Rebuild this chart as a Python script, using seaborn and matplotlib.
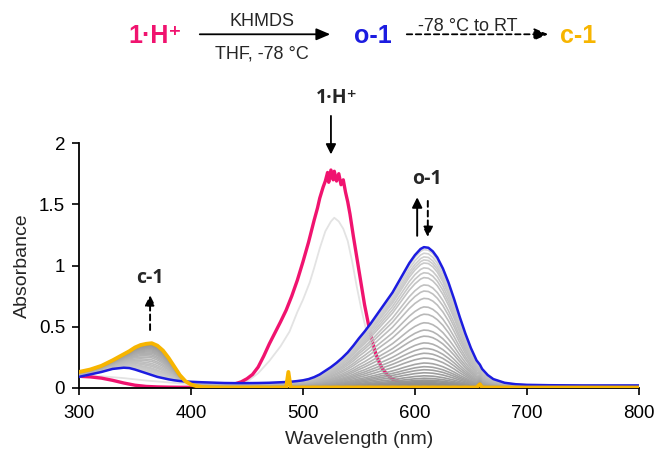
import numpy as np
import pandas as pd
import matplotlib
matplotlib.use("Agg")
import matplotlib.pyplot as plt
from matplotlib.patches import FancyArrowPatch
import seaborn as sns

# ---------------- data ----------------
# common wavelength grid for o-1, c-1 and the conversion series
wl = [300, 310, 320, 330, 340, 345, 350, 355, 360, 365, 370, 375, 380, 385, 390, 395,
      400, 405, 410, 420, 430, 440, 450, 460, 470, 480, 485, 487, 489, 495, 500, 505,
      510, 515, 520, 525, 530, 535, 540, 545, 550, 555, 560, 565, 570, 575, 580, 585,
      590, 595, 600, 605, 608, 612, 616, 620, 625, 630, 635, 640, 645, 650, 655, 658,
      660, 665, 670, 680, 690, 700, 720, 750, 800]

o1_abs = [0.09, 0.11, 0.13, 0.155, 0.165, 0.162, 0.15, 0.135, 0.12, 0.105, 0.09, 0.08,
          0.07, 0.062, 0.056, 0.052, 0.05, 0.048, 0.046, 0.043, 0.04, 0.039, 0.039, 0.04,
          0.042, 0.046, 0.048, 0.07, 0.05, 0.056, 0.062, 0.072, 0.088, 0.11, 0.14, 0.17,
          0.205, 0.245, 0.29, 0.345, 0.405, 0.46, 0.52, 0.585, 0.65, 0.715, 0.78, 0.86,
          0.94, 1.02, 1.085, 1.135, 1.15, 1.145, 1.115, 1.065, 0.975, 0.86, 0.725, 0.58,
          0.445, 0.325, 0.225, 0.19, 0.155, 0.105, 0.072, 0.042, 0.03, 0.025, 0.022, 0.02,
          0.02]

c1_abs = [0.13, 0.15, 0.18, 0.225, 0.275, 0.30, 0.33, 0.35, 0.36, 0.365, 0.345, 0.305,
          0.245, 0.175, 0.105, 0.055, 0.028, 0.014, 0.007, 0.004, 0.003, 0.003, 0.003,
          0.004, 0.003, 0.004, 0.003, 0.13, 0.004, 0.003, 0.004, 0.003, 0.004, 0.003,
          0.004, 0.003, 0.004, 0.003, 0.004, 0.003, 0.004, 0.003, 0.004, 0.003, 0.004,
          0.003, 0.004, 0.003, 0.004, 0.003, 0.004, 0.003, 0.004, 0.003, 0.004, 0.003,
          0.004, 0.003, 0.004, 0.003, 0.004, 0.003, 0.004, 0.03, 0.004, 0.003, 0.003,
          0.003, 0.003, 0.003, 0.003, 0.003, 0.003]

# peak heights (608 nm) of the grey o-1 -> c-1 conversion traces
gray_peaks = [1.13, 1.10, 1.07, 1.045, 1.02, 0.98, 0.94, 0.90, 0.84, 0.79, 0.73, 0.66,
              0.60, 0.53, 0.47, 0.42, 0.365, 0.32, 0.28, 0.24, 0.20, 0.17, 0.145, 0.12,
              0.095, 0.075, 0.06, 0.05, 0.04, 0.032, 0.025, 0.018, 0.012]

# 1·H+ spectrum
h_wl = [300, 310, 320, 330, 340, 350, 360, 370, 380, 390, 400, 410, 420, 430, 440, 445,
        450, 455, 460, 465, 470, 475, 480, 485, 490, 495, 500, 505, 510, 513, 515,
        518, 520, 522, 523, 525, 527, 528, 530, 532, 534, 536, 538, 540, 542, 545, 550,
        555, 560, 565, 570, 575, 580, 590, 600, 620, 650, 700, 800]
h_abs = [0.095, 0.09, 0.08, 0.062, 0.04, 0.022, 0.012, 0.008, 0.006, 0.005, 0.005, 0.006,
         0.01, 0.018, 0.035, 0.05, 0.075, 0.11, 0.17, 0.26, 0.36, 0.45, 0.54, 0.635,
         0.75, 0.88, 1.03, 1.19, 1.37, 1.47, 1.55, 1.64, 1.69, 1.76, 1.68, 1.78,
         1.70, 1.77, 1.69, 1.75, 1.66, 1.70, 1.60, 1.52, 1.42, 1.24, 0.96, 0.68, 0.45,
         0.28, 0.17, 0.11, 0.07, 0.04, 0.025, 0.012, 0.006, 0.004, 0.003]

# intermediate trace during deprotonation
m_wl = [300, 320, 340, 360, 380, 400, 420, 440, 450, 460, 470, 480, 488, 495, 500, 506,
        510, 515, 520, 525, 528, 532, 536, 540, 544, 548, 552, 556, 560, 565, 570, 580,
        600, 650, 800]
m_abs = [0.10, 0.095, 0.08, 0.06, 0.045, 0.03, 0.025, 0.03, 0.05, 0.12, 0.22, 0.34,
         0.46, 0.62, 0.72, 0.86, 0.98, 1.14, 1.28, 1.36, 1.39, 1.36, 1.30, 1.20, 1.03,
         0.83, 0.65, 0.49, 0.36, 0.24, 0.15, 0.07, 0.04, 0.02, 0.015]

x_ticks = [300, 400, 500, 600, 700, 800]
y_ticks = [0, 0.5, 1, 1.5, 2]
y_tick_labels = ["0", "0.5", "1", "1.5", "2"]

PINK = "#f0136f"
BLUE = "#1c1ce0"
YELLOW = "#f7b500"

# ---------------- figure ----------------
sns.set_style("ticks")
plt.rcParams["font.family"] = ["Liberation Sans", "DejaVu Sans"]

fig = plt.figure(figsize=(6.58, 4.50), dpi=100)
ax = fig.add_axes([0.120, 0.138, 0.851, 0.544])

o1 = np.array(o1_abs)
c1 = np.array(c1_abs)
blue_peak = max(o1_abs)
rows = []
for i, p in enumerate(gray_peaks):
    f = p / blue_peak
    trace = f * o1 + (1 - f) * c1
    for w, a in zip(wl, trace):
        rows.append({"wl": w, "A": a, "trace": i})
gdf = pd.DataFrame(rows)
n = len(gray_peaks)
gray_cols = []
for i in range(n):
    t = i / (n - 1)
    v = 0.83 - 0.29 * t
    gray_cols.append((v, v, v))

sns.lineplot(x=m_wl, y=m_abs, ax=ax, color="#e3e3e3", lw=1.3, estimator=None,
             sort=False, zorder=1)
sns.lineplot(x=h_wl, y=h_abs, ax=ax, color=PINK, lw=2.4, estimator=None,
             sort=False, zorder=2)
sns.lineplot(data=gdf, x="wl", y="A", hue="trace", palette=gray_cols, ax=ax,
             lw=1.2, estimator=None, sort=False, legend=False, zorder=3)
sns.lineplot(x=wl, y=o1_abs, ax=ax, color=BLUE, lw=1.8, estimator=None,
             sort=False, zorder=4)
sns.lineplot(x=wl, y=c1_abs, ax=ax, color=YELLOW, lw=2.8, estimator=None,
             sort=False, zorder=5)

ax.set_xlim(300, 800)
ax.set_ylim(0, 2)
ax.set_xticks(x_ticks)
ax.set_xticklabels([str(t) for t in x_ticks])
ax.set_yticks(y_ticks)
ax.set_yticklabels(y_tick_labels)
ax.tick_params(axis="both", direction="out", length=5, width=1.2, colors="black",
               labelsize=13.5, pad=5)
ax.tick_params(axis="x", pad=7)
sns.despine(ax=ax)
for s in ("left", "bottom"):
    ax.spines[s].set_color("black")
    ax.spines[s].set_linewidth(1.3)
ax.set_xlabel("Wavelength (nm)", fontsize=14, labelpad=7)
ax.set_ylabel("Absorbance", fontsize=14, labelpad=6)
ax.grid(False)

# in-plot annotations
bold_fam = ["Open Sans", "DejaVu Sans"]
ax.text(530, 2.37, "1·H⁺", ha="center", va="center", fontsize=14, fontweight="bold",
        family=bold_fam, clip_on=False)
ax.annotate("", xy=(525, 1.885), xytext=(525, 2.245), annotation_clip=False,
            arrowprops=dict(arrowstyle="-|>,head_width=0.3,head_length=0.6",
                            color="black", lw=1.3))
ax.text(610.5, 1.71, "o-1", ha="center", va="center", fontsize=14, fontweight="bold",
        family=bold_fam)
ax.annotate("", xy=(602, 1.58), xytext=(602, 1.22),
            arrowprops=dict(arrowstyle="-|>,head_width=0.3,head_length=0.6",
                            color="black", lw=1.4))
ax.annotate("", xy=(611.5, 1.21), xytext=(611.5, 1.55),
            arrowprops=dict(arrowstyle="-|>,head_width=0.3,head_length=0.6",
                            color="black", lw=1.4, linestyle=(0, (3, 2))))
ax.text(363.5, 0.90, "c-1", ha="center", va="center", fontsize=14, fontweight="bold",
        family=bold_fam)
ax.annotate("", xy=(363.5, 0.78), xytext=(363.5, 0.45),
            arrowprops=dict(arrowstyle="-|>,head_width=0.3,head_length=0.6",
                            color="black", lw=1.4, linestyle=(0, (3, 2))))

# reaction scheme on top
fam = ["Liberation Sans", "DejaVu Sans"]
fig.text(0.2356, 0.9044, "1·H⁺", ha="center", va="baseline", fontsize=18,
         fontweight="bold", color=PINK, family=fam)
fig.text(0.398, 0.9422, "KHMDS", ha="center", va="baseline", fontsize=13, family=fam)
fig.text(0.398, 0.871, "THF, -78 °C", ha="center", va="baseline", fontsize=13,
         family=fam)
fig.patches.append(FancyArrowPatch((0.2994, 0.9238), (0.5061, 0.9238),
                                   transform=fig.transFigure, figure=fig,
                                   arrowstyle="-|>,head_width=0.3,head_length=0.7",
                                   color="black", lw=1.3, mutation_scale=12))
fig.text(0.5669, 0.9044, "o-1", ha="center", va="baseline", fontsize=18,
         fontweight="bold", color=BLUE, family=fam)
fig.text(0.7112, 0.931, "-78 °C to RT", ha="center", va="baseline", fontsize=13,
         family=fam)
fig.patches.append(FancyArrowPatch((0.614, 0.9238), (0.8374, 0.9238),
                                   transform=fig.transFigure, figure=fig,
                                   arrowstyle="-|>,head_width=0.3,head_length=0.7",
                                   color="black", lw=1.3, mutation_scale=12,
                                   linestyle=(0, (3, 2))))
fig.text(0.8784, 0.9044, "c-1", ha="center", va="baseline", fontsize=18,
         fontweight="bold", color=YELLOW, family=fam)

fig.savefig("out.png", dpi=100)
